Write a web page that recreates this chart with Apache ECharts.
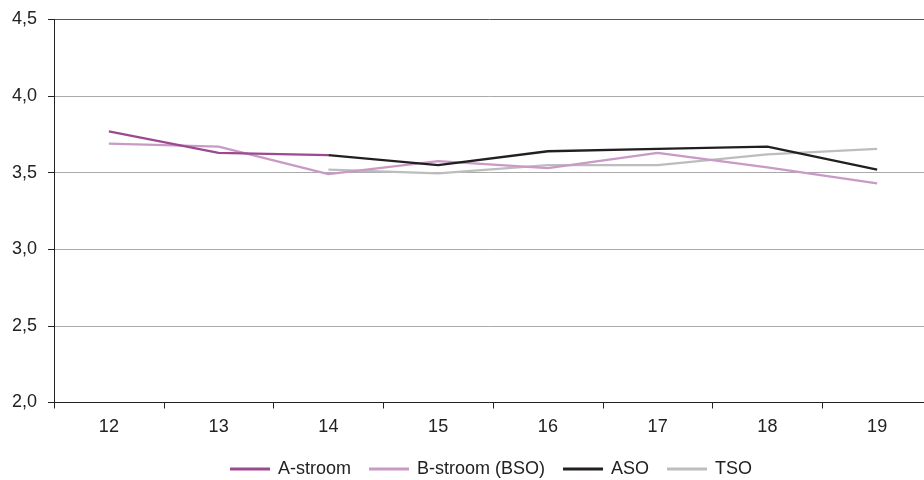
<!DOCTYPE html>
<html>
<head>
<meta charset="utf-8">
<script src="https://cdn.jsdelivr.net/npm/echarts@6/dist/echarts.min.js"></script>
<style>html,body{margin:0;padding:0;background:#fff;}#c{width:924px;height:480px;}</style>
</head>
<body>
<div id="c"></div>
<script>
var categories = ['12','13','14','15','16','17','18','19'];
var aStroom = [3.77, 3.63, 3.615, null, null, null, null, null];
var bStroom = [3.69, 3.67, 3.49, 3.575, 3.53, 3.63, 3.535, 3.43];
var aso = [null, null, 3.615, 3.55, 3.64, 3.655, 3.67, 3.52];
var tso = [null, null, 3.52, 3.495, 3.55, 3.55, 3.62, 3.655];
var seriesNames = ['A-stroom', 'B-stroom (BSO)', 'ASO', 'TSO'];
var colors = ['#9c4a90', '#c99ac6', '#231f20', '#bdbdbd'];

var font = "'Liberation Sans', Arial, sans-serif";
var chart = echarts.init(document.getElementById('c'));
var datas = [aStroom, bStroom, aso, tso];
chart.setOption({
  animation: false,
  color: colors,
  grid: { left: 54, right: -8, top: 19.5, bottom: 77.5, containLabel: false, outerBoundsMode: 'none' },
  legend: {
    top: 455,
    left: 225,
    itemWidth: 40,
    itemHeight: 3,
    itemGap: 18,
    icon: 'rect',
    textStyle: { fontFamily: font, fontSize: 18, color: '#222', padding: [0, 0, 0, 3] },
    data: seriesNames
  },
  xAxis: {
    type: 'category',
    data: categories,
    boundaryGap: true,
    axisLine: { lineStyle: { color: '#222', width: 1 } },
    axisTick: { show: true, length: 6, lineStyle: { color: '#222' } },
    axisLabel: { fontFamily: font, fontSize: 18, color: '#222', margin: 16 },
    splitLine: { show: false }
  },
  yAxis: {
    type: 'value',
    min: 2.0,
    max: 4.5,
    interval: 0.5,
    axisLine: { show: true, lineStyle: { color: '#222', width: 1 } },
    axisTick: { show: true, length: 6, lineStyle: { color: '#222' } },
    axisLabel: {
      fontFamily: font, fontSize: 18, color: '#222', margin: 17,
      formatter: function (v) { return v.toFixed(1).replace('.', ','); }
    },
    splitLine: { show: true, lineStyle: { color: ['#aaaaaa','#aaaaaa','#aaaaaa','#aaaaaa','#aaaaaa','#555555'], width: 1 } }
  },
  series: seriesNames.map(function (n, i) {
    return {
      name: n,
      type: 'line',
      data: datas[i],
      symbol: 'none',
      connectNulls: false,
      lineStyle: { width: 2.3, color: colors[i] },
      itemStyle: { color: colors[i] },
      z: [2, 1, 3, 0][i] + 2
    };
  })
});
</script>
</body>
</html>
